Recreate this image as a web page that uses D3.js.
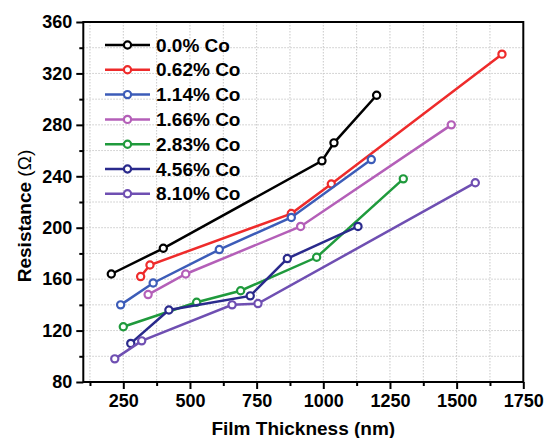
<!DOCTYPE html>
<html>
<head>
<meta charset="utf-8">
<script src="https://cdn.jsdelivr.net/npm/d3@7"></script>
<style>
  body { margin: 0; background: #fff; }
  svg { font-family: "Liberation Sans", Arial, sans-serif; }
</style>
</head>
<body>
<script>
// data
var seriesNames = ["0.0% Co", "0.62% Co", "1.14% Co", "1.66% Co", "2.83% Co", "4.56% Co", "8.10% Co"];
var seriesColors = ["#000000", "#ee2b2b", "#3c5cb8", "#b45fb8", "#1f9a3c", "#2a2a8c", "#6f4fb2"];

var thick00 = [205, 400, 995, 1040, 1200];
var res00   = [164, 184, 252, 266, 303];
var thick062 = [315, 350, 880, 1030, 1670];
var res062   = [162, 171, 211, 234, 335];
var thick114 = [240, 362, 610, 880, 1180];
var res114   = [140, 157, 183, 208, 253];
var thick166 = [343, 484, 915, 1480];
var res166   = [148, 164, 201, 280];
var thick283 = [250, 525, 690, 975, 1300];
var res283   = [123, 142, 151, 177, 238];
var thick456 = [278, 421, 726, 865, 1130];
var res456   = [110, 136, 147, 176, 201];
var thick810 = [218, 319, 658, 755, 1570];
var res810   = [98, 112, 140, 141, 235];

var xTicks = [250, 500, 750, 1000, 1250, 1500, 1750];
var yTicks = [80, 120, 160, 200, 240, 280, 320, 360];

var allX = [thick00, thick062, thick114, thick166, thick283, thick456, thick810];
var allY = [res00, res062, res114, res166, res283, res456, res810];

var W = 547, H = 438;
var pLeft = 83.3, pRight = 523.3, pTop = 22, pBottom = 382;

var svg = d3.select("body").append("svg")
    .attr("width", W)
    .attr("height", H);

var x = d3.scaleLinear().domain([100, 1750]).range([pLeft, pRight]);
var y = d3.scaleLinear().domain([80, 360]).range([pBottom, pTop]);

// grid (dotted, every minor step)
var gx = d3.range(125, 1750, 125);
var gy = d3.range(100, 360, 20);
svg.append("g").selectAll("line")
    .data(gx).enter().append("line")
    .attr("x1", function(d) { return x(d); })
    .attr("x2", function(d) { return x(d); })
    .attr("y1", pTop).attr("y2", pBottom)
    .attr("stroke", "#c8c8c8").attr("stroke-width", 1)
    .attr("stroke-dasharray", "1.5,1.5");
svg.append("g").selectAll("line")
    .data(gy).enter().append("line")
    .attr("y1", function(d) { return y(d); })
    .attr("y2", function(d) { return y(d); })
    .attr("x1", pLeft).attr("x2", pRight)
    .attr("stroke", "#c8c8c8").attr("stroke-width", 1)
    .attr("stroke-dasharray", "1.5,1.5");

// axes
var xAxis = svg.append("g")
    .attr("transform", "translate(0," + pBottom + ")")
    .call(d3.axisBottom(x).tickValues(xTicks).tickSize(7).tickPadding(5).tickFormat(d3.format("d")));
var xMinor = svg.append("g")
    .attr("transform", "translate(0," + pBottom + ")")
    .call(d3.axisBottom(x).tickValues(d3.range(125, 1750, 250)).tickSize(4).tickFormat(""));
var yAxis = svg.append("g")
    .attr("transform", "translate(" + pLeft + ",0)")
    .call(d3.axisLeft(y).tickValues(yTicks).tickSize(7).tickPadding(4).tickFormat(d3.format("d")));
var yMinor = svg.append("g")
    .attr("transform", "translate(" + pLeft + ",0)")
    .call(d3.axisLeft(y).tickValues(d3.range(100, 360, 40)).tickSize(4).tickFormat(""));

[xAxis, xMinor, yAxis, yMinor].forEach(function(a) {
    a.select(".domain").remove();
    a.selectAll("line").attr("stroke", "#000").attr("stroke-width", 2);
    a.selectAll("text")
        .attr("fill", "#000")
        .style("font-size", "18px")
        .style("font-weight", "bold")
        .style("font-family", "'Liberation Sans', Arial, sans-serif");
});

// frame
svg.append("rect")
    .attr("x", pLeft).attr("y", pTop)
    .attr("width", pRight - pLeft).attr("height", pBottom - pTop)
    .attr("fill", "none").attr("stroke", "#000").attr("stroke-width", 2);

// axis titles
svg.append("text")
    .attr("x", (pLeft + pRight) / 2)
    .attr("y", 435)
    .attr("text-anchor", "middle")
    .style("font-size", "19px")
    .style("font-weight", "bold")
    .text("Film Thickness (nm)");

var yt = svg.append("text")
    .attr("transform", "translate(31,216) rotate(-90)")
    .attr("text-anchor", "middle")
    .style("font-size", "19px");
yt.append("tspan").style("font-weight", "bold").text("Resistance ");
yt.append("tspan").text("(\u03A9)");

// lines + markers
var line = d3.line()
    .x(function(d) { return x(d[0]); })
    .y(function(d) { return y(d[1]); });

seriesNames.forEach(function(name, i) {
    var pts = d3.zip(allX[i], allY[i]);
    var g = svg.append("g");
    g.append("path")
        .attr("d", line(pts))
        .attr("fill", "none")
        .attr("stroke", seriesColors[i])
        .attr("stroke-width", 2.5);
    g.selectAll("circle")
        .data(pts).enter().append("circle")
        .attr("cx", function(d) { return x(d[0]); })
        .attr("cy", function(d) { return y(d[1]); })
        .attr("r", 3.6)
        .attr("fill", "#fff")
        .attr("stroke", seriesColors[i])
        .attr("stroke-width", 2.2);
});

// legend
var leg = svg.append("g");
seriesNames.forEach(function(name, i) {
    var ly = 45 + i * 24.8;
    leg.append("line")
        .attr("x1", 105).attr("x2", 150)
        .attr("y1", ly).attr("y2", ly)
        .attr("stroke", seriesColors[i]).attr("stroke-width", 2.5);
    leg.append("circle")
        .attr("cx", 127.5).attr("cy", ly).attr("r", 3.6)
        .attr("fill", "#fff")
        .attr("stroke", seriesColors[i]).attr("stroke-width", 2.2);
    leg.append("text")
        .attr("x", 156).attr("y", ly + 6.5)
        .style("font-size", "19px")
        .style("font-weight", "bold")
        .text(name);
});
</script>
</body>
</html>
